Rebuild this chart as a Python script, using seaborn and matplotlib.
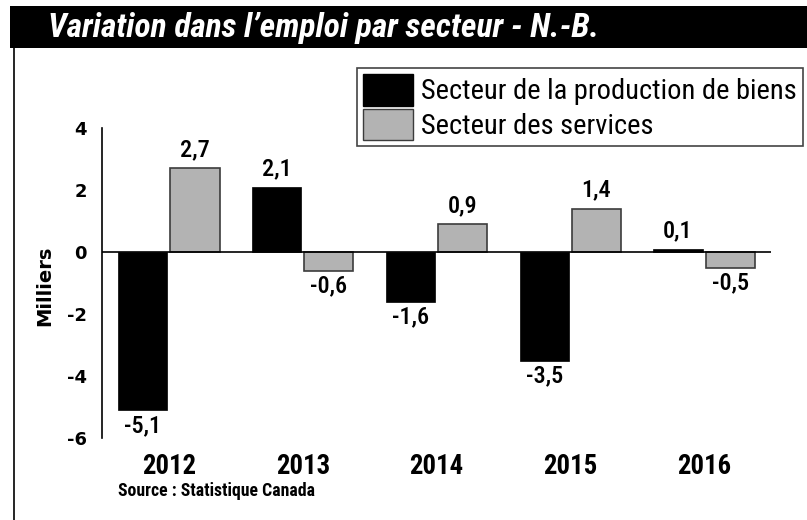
import matplotlib
matplotlib.use("Agg")
import matplotlib.pyplot as plt
import matplotlib.font_manager as fm
from matplotlib.patches import Rectangle
from matplotlib.lines import Line2D
import seaborn as sns
import pandas as pd

sns.set_theme(style="white")
plt.rcParams['font.family'] = ['DejaVu Sans']
for k in ['text.color', 'axes.labelcolor', 'xtick.color', 'ytick.color']:
    plt.rcParams[k] = 'black'

# data
years = ["2012", "2013", "2014", "2015", "2016"]
biens = [-5.1, 2.1, -1.6, -3.5, 0.1]
services = [2.7, -0.6, 0.9, 1.4, -0.5]
series = ["Secteur de la production de biens", "Secteur des services"]
yticks = [4, 2, 0, -2, -4, -6]
title = "Variation dans l\u2019emploi par secteur - N.-B."
source = "Source : Statistique Canada"

df = pd.DataFrame({
    "annee": years * 2,
    "valeur": biens + services,
    "secteur": [series[0]] * len(years) + [series[1]] * len(years),
})


# look for a narrow / condensed face, the reference uses a condensed sans
def _is_narrow(f):
    return ("Narrow" in f.name or "Condensed" in f.name
            or str(f.stretch) in ("condensed", "semi-condensed", "extra-condensed"))


def _wt(f):
    w = f.weight
    if isinstance(w, str):
        w = {"bold": 700, "normal": 400, "regular": 400}.get(w, 400)
    return w


prefs = ["Liberation Sans Narrow", "Roboto Condensed", "Noto Sans", "Open Sans",
         "DejaVu Sans", "Roboto"]


def font(weight=400, italic=False, size=12):
    cands = [f for f in fm.fontManager.ttflist if _is_narrow(f)
             and any(f.name.startswith(p) for p in prefs)]
    best, score = None, None
    for f in cands:
        s = abs(_wt(f) - weight) / 100.0
        s += 0 if ((f.style != "normal") == italic) else 5
        s += 0.5 * next(i for i, p in enumerate(prefs) if f.name.startswith(p))
        s += 0 if str(f.stretch) == "condensed" or "Narrow" in f.name else 0.7
        if score is None or s < score:
            best, score = f, s
    if best is not None:
        return fm.FontProperties(fname=best.fname, size=size)
    return fm.FontProperties(family="DejaVu Sans", weight=weight,
                             style="italic" if italic else "normal", size=size)


W, H = 807, 520
fig = plt.figure(figsize=(W / 100, H / 100), dpi=100)
renderer = fig.canvas.get_renderer()


def fitted(s, fp, target_px):
    # scale the font so the string is as wide as in the reference
    t = fig.text(0, 0, s, fontproperties=fp)
    w = t.get_window_extent(renderer).width
    t.remove()
    fp = fp.copy()
    fp.set_size(fp.get_size() * target_px / w)
    return fp


fp_title = fitted(title, font(700, True, 20), 550)
fp_year = fitted("2012", font(600, False, 18), 54)
fp_val = fitted("2,7", font(500, False, 14), 30)
fp_leg = fitted(series[0], font(400, False, 18), 375)
fp_src = fitted(source, font(600, False, 13), 196)

ax = fig.add_axes([102 / W, 1 - 438 / H, (771 - 102) / W, (438 - 128) / H])

sns.barplot(data=df, x="annee", y="valeur", hue="secteur", order=years,
            hue_order=series, palette=["#000000", "#b3b3b3"],
            width=0.78, gap=0.06, ax=ax, legend=False)

for bar in ax.containers[0]:
    bar.set_edgecolor("#000000")
    bar.set_linewidth(0.5)
for bar in ax.containers[1]:
    bar.set_edgecolor("#3c3c3c")
    bar.set_linewidth(1.2)

for cont in ax.containers:
    hs = [b.get_height() for b in cont]
    pos = [f"{v:.1f}".replace(".", ",") if v >= 0 else "" for v in hs]
    neg = [f"{v:.1f}".replace(".", ",") if v < 0 else "" for v in hs]
    ax.bar_label(cont, labels=pos, padding=5, fontproperties=fp_val)
    ax.bar_label(cont, labels=neg, padding=3, fontproperties=fp_val)

ax.set_xlim(-0.5, 4.5)
ax.set_ylim(-6, 4)
ax.set_yticks(yticks)
ax.set_yticklabels([str(v) for v in yticks], family="DejaVu Sans",
                   fontweight="bold", fontsize=13)
ax.tick_params(axis="y", length=0, pad=11)
ax.tick_params(axis="x", length=0, pad=11)
for lab in ax.get_xticklabels():
    lab.set_fontproperties(fp_year)

ax.axhline(0, color="black", lw=1.2, zorder=3)
for s in ["top", "right", "bottom"]:
    ax.spines[s].set_visible(False)
ax.spines["left"].set_color("black")
ax.spines["left"].set_linewidth(1.2)
ax.set_xlabel("")
ax.set_ylabel("")
ax.grid(False)

fig.text(45 / W, 1 - 286 / H, "Milliers", rotation=90, ha="center", va="center",
         family="DejaVu Sans", fontweight="bold", fontsize=14)

# legend, sizes given in pixels and turned into font units
px = fp_leg.get_size() * 100 / 72
handles = [Rectangle((0, 0), 1, 1, facecolor="#000000", edgecolor="#000000"),
           Rectangle((0, 0), 1, 1, facecolor="#b3b3b3", edgecolor="#3c3c3c")]
leg = fig.legend(handles, series, loc="upper right",
                 bbox_to_anchor=(803 / W, 1 - 68 / H), prop=fp_leg,
                 frameon=True, fancybox=False, framealpha=1,
                 handlelength=50 / px, handleheight=38 / px, handletextpad=8 / px,
                 labelspacing=3 / px, borderpad=6 / px, borderaxespad=0)
leg.get_frame().set_edgecolor("#444444")
leg.get_frame().set_linewidth(1.2)

# title band and frame
fig.patches.append(Rectangle((10 / W, 1 - 48 / H), 1 - 10 / W, 42 / H,
                             transform=fig.transFigure, facecolor="black",
                             edgecolor="none", zorder=0))
fig.lines.append(Line2D([14 / W, 14 / W], [0, 1 - 48 / H], transform=fig.transFigure,
                        color="black", lw=1.2))
fig.text(48 / W, 1 - 28 / H, title, color="white", fontproperties=fp_title,
         ha="left", va="center")

fig.text(118 / W, 1 - 491 / H, source, fontproperties=fp_src, ha="left", va="center")

fig.savefig("out.png", dpi=100)
